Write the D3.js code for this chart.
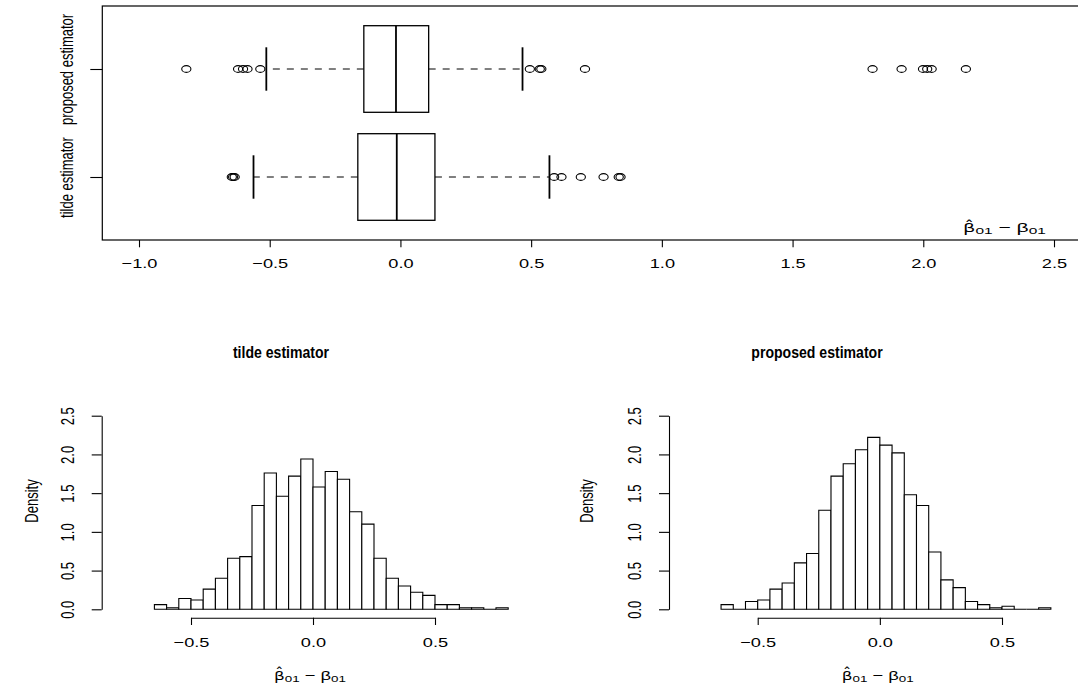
<!DOCTYPE html>
<html>
<head>
<meta charset="utf-8">
<script src="https://cdn.jsdelivr.net/npm/d3@7"></script>
<style>
body { margin:0; background:#fff; }
svg { display:block; }
text { font-family:"Liberation Sans", Arial, sans-serif; fill:#000; }
</style>
</head>
<body>
<svg width="1078" height="685"></svg>
<script>
// boxplot data
var groups = ["tilde estimator", "proposed estimator"];
// lower whisker, q1, median, q3, upper whisker
var tildeStats = [-0.562, -0.163, -0.014, 0.132, 0.570];
var proposedStats = [-0.513, -0.140, -0.017, 0.108, 0.467];
var tildeOutliers = [-0.645, -0.640, -0.634, 0.588, 0.616, 0.690, 0.777, 0.835, 0.842];
var proposedOutliers = [-0.819, -0.621, -0.602, -0.585, -0.536, 0.495, 0.533, 0.539, 0.706,
                        1.806, 1.917, 1.999, 2.015, 2.032, 2.163];
var topTicks = [-1, -0.5, 0, 0.5, 1, 1.5, 2, 2.5];

// histogram data (density per bin of width 0.05)
var binWidth = 0.05;
var tildeBinStart = -0.65;
var tildeDensity = [0.06,0.02,0.14,0.12,0.26,0.40,0.66,0.68,1.34,1.76,1.46,1.72,1.94,1.58,1.78,
                    1.68,1.26,1.10,0.66,0.40,0.30,0.22,0.18,0.06,0.06,0.02,0.02,0,0.02];
var proposedBinStart = -0.65;
var proposedDensity = [0.06,0,0.10,0.12,0.26,0.34,0.60,0.72,1.28,1.72,1.88,2.06,2.22,2.12,2.02,
                       1.48,1.34,0.74,0.38,0.28,0.10,0.06,0.02,0.04,0,0,0.02];
var histXTicks = [-0.5, 0, 0.5];
var histYTicks = [0, 0.5, 1, 1.5, 2, 2.5];

var SX = 1.4;   // the picture is stretched sideways
var fmt = d3.format(".1f");
var svg = d3.select("svg");

// beta-hat label, one text element, hat as combining mark
var betaLabel = function(left, base, width)
{
    var g = svg.append("g");
    var t = g.append("text").attr("font-size", 13);
    t.append("tspan").style("font-family", "'DejaVu Sans'").attr("font-size", 12).text("β\u0302");
    t.append("tspan").attr("font-size", 9.5).attr("dy", 2.5).text("01");
    t.append("tspan").attr("dy", -2.5).text(" − β");
    t.append("tspan").attr("font-size", 9.5).attr("dy", 2.5).text("01");
    var w = t.node().getComputedTextLength();
    g.attr("transform", "translate(" + left + "," + base + ") scale(" + (width / w) + ",1)");
}

// ---------- top: horizontal boxplot ----------
var xTop = d3.scaleLinear().domain([-1, 2.5]).range([139, 1054]);
var yRow = d3.scaleLinear().domain([1, 2]).range([177, 69]);
var boxHalf = 43.3, capHalf = 21.7;

svg.append("rect")
    .attr("x", 102.3).attr("y", 6).attr("width", 1010).attr("height", 234)
    .attr("fill", "none").attr("stroke", "#000").attr("stroke-width", 1.2);

var xAxisTop = svg.append("g")
    .attr("transform", "translate(0,240)")
    .call(d3.axisBottom(xTop).tickValues(topTicks).tickSize(7.3).tickFormat(fmt));
xAxisTop.select(".domain").remove();
xAxisTop.selectAll(".tick text").attr("y", 0).attr("dy", 0)
    .attr("transform", "translate(0,27.7) scale(" + SX + ",1)");

var yAxisTop = svg.append("g")
    .attr("transform", "translate(102.3,0)")
    .call(d3.axisLeft(yRow).tickValues([1, 2]).tickSize(12)
        .tickFormat(function(d) { return groups[d - 1]; }));
yAxisTop.select(".domain").remove();
yAxisTop.selectAll(".tick text")
    .attr("x", 0).attr("dy", 0).attr("text-anchor", "middle")
    .attr("transform", "translate(-29.7,0) scale(" + SX + ",1) rotate(-90)");

var boxes = [
    {row: 1, stats: tildeStats, out: tildeOutliers},
    {row: 2, stats: proposedStats, out: proposedOutliers}
];

boxes.forEach(function(b)
{
    var cy = yRow(b.row);
    var s = b.stats;
    var g = svg.append("g");
    // dashed whiskers
    g.selectAll("line.whisk")
        .data([[s[1], s[0]], [s[3], s[4]]])
        .enter()
        .append("line")
        .attr("x1", function(d) { return xTop(d[0]); })
        .attr("x2", function(d) { return xTop(d[1]); })
        .attr("y1", cy).attr("y2", cy)
        .attr("stroke", "#000").attr("stroke-width", 1)
        .attr("stroke-dasharray", "7,7");
    // staples
    g.selectAll("line.cap")
        .data([s[0], s[4]])
        .enter()
        .append("line")
        .attr("x1", function(d) { return xTop(d); })
        .attr("x2", function(d) { return xTop(d); })
        .attr("y1", cy - capHalf).attr("y2", cy + capHalf)
        .attr("stroke", "#000").attr("stroke-width", 1.8);
    // box
    g.append("rect")
        .attr("x", xTop(s[1])).attr("width", xTop(s[3]) - xTop(s[1]))
        .attr("y", cy - boxHalf).attr("height", 2 * boxHalf)
        .attr("fill", "#fff").attr("stroke", "#000").attr("stroke-width", 1.3);
    // median
    g.append("line")
        .attr("x1", xTop(s[2])).attr("x2", xTop(s[2]))
        .attr("y1", cy - boxHalf).attr("y2", cy + boxHalf)
        .attr("stroke", "#000").attr("stroke-width", 1.8);
    // outliers
    g.selectAll("ellipse")
        .data(b.out)
        .enter()
        .append("ellipse")
        .attr("cx", function(d) { return xTop(d); })
        .attr("cy", cy)
        .attr("rx", 4.6).attr("ry", 3.4)
        .attr("fill", "none").attr("stroke", "#000").attr("stroke-width", 1.1);
});

betaLabel(963, 231.7, 83);

// ---------- bottom: histograms ----------
var panels = [
    {title: groups[0], start: tildeBinStart, density: tildeDensity,
     xRange: [191, 435], axisX: 101.7, titleX: 281, densX: 38, labelLeft: 274},
    {title: groups[1], start: proposedBinStart, density: proposedDensity,
     xRange: [757.7, 1002], axisX: 669, titleX: 817, densX: 593, labelLeft: 841.7}
];

var yHist = d3.scaleLinear().domain([0, 2.5]).range([609.3, 415.7]);

panels.forEach(function(p)
{
    var x = d3.scaleLinear().domain([-0.5, 0.5]).range(p.xRange);
    var bins = p.density.map(function(d, i)
    {
        return {x0: p.start + i * binWidth, x1: p.start + (i + 1) * binWidth, d: d};
    });

    svg.append("g")
        .selectAll("path")
        .data(bins)
        .enter()
        .append("path")
        .attr("d", function(b)
        {
            return "M" + x(b.x0) + "," + yHist(0) + "V" + yHist(b.d) +
                   "H" + x(b.x1) + "V" + yHist(0) + "Z";
        })
        .attr("fill", "#fff").attr("stroke", "#000").attr("stroke-width", 1.1);

    var xa = svg.append("g")
        .attr("transform", "translate(0,617.7)")
        .call(d3.axisBottom(x).tickValues(histXTicks).tickSize(7.3).tickSizeOuter(0).tickFormat(fmt));
    var ya = svg.append("g")
        .attr("transform", "translate(" + p.axisX + ",0)")
        .call(d3.axisLeft(yHist).tickValues(histYTicks).tickSize(10).tickSizeOuter(0).tickFormat(fmt));
    ya.selectAll(".tick text")
        .attr("x", 0).attr("dy", 0).attr("text-anchor", "middle")
        .attr("transform", "translate(-28,0) scale(" + SX + ",1) rotate(-90)");

    xa.selectAll(".tick text").attr("y", 0).attr("dy", 0)
        .attr("transform", "translate(0,29) scale(" + SX + ",1)");

    svg.append("text")
        .attr("transform", "translate(" + p.titleX + ",357.7) scale(0.88,1)")
        .attr("text-anchor", "middle")
        .attr("font-size", 16).attr("font-weight", "bold")
        .text(p.title);

    svg.append("text")
        .attr("transform", "translate(" + p.densX + ",501) scale(" + SX + ",1) rotate(-90)")
        .attr("text-anchor", "middle").attr("font-size", 13)
        .text("Density");

    betaLabel(p.labelLeft, 679.5, 72);
});

// shared axis styling
svg.selectAll(".tick text").attr("font-size", 13).attr("fill", "#000")
    .style("font-family", "'Liberation Sans', Arial, sans-serif");
svg.selectAll(".tick line").attr("stroke", "#000").attr("stroke-width", 1.1);
svg.selectAll(".domain").attr("stroke", "#000").attr("stroke-width", 1.1);
</script>
</body>
</html>
